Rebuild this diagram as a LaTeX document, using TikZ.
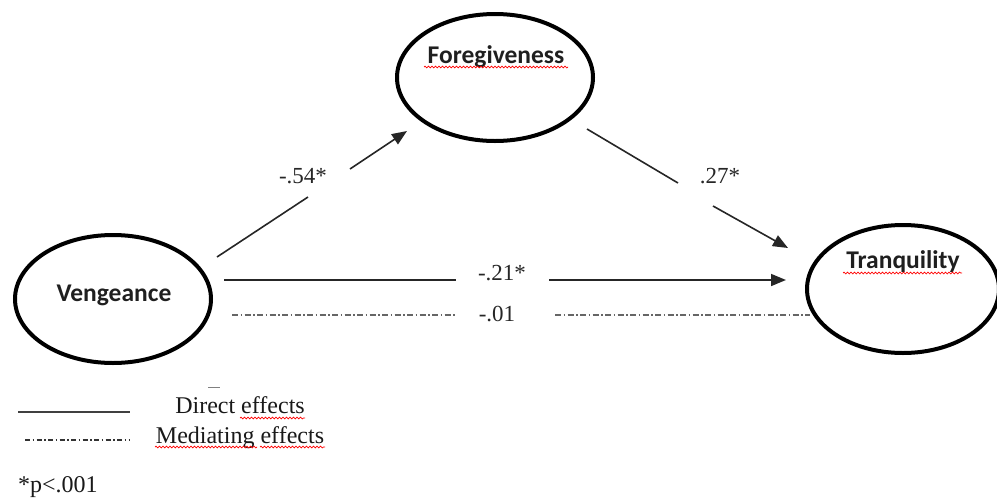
\documentclass[tikz,border=0pt]{standalone}
\usepackage{fontspec}
\setmainfont{Liberation Serif}
\newfontfamily\calib{Carlito}
\usetikzlibrary{arrows.meta,decorations.pathmorphing,shapes.geometric}

\begin{document}
\begin{tikzpicture}[x=1pt,y=-1pt,
  ell/.style={draw, ellipse, line width=4pt, inner sep=0pt},
  elabel/.style={font=\calib\bfseries\fontsize{25.5}{30}\selectfont, text=black!88, anchor=base, inner sep=0pt},
  num/.style={font=\fontsize{23}{28}\selectfont, text=black!85, anchor=base, inner sep=0pt},
  legtext/.style={font=\fontsize{24}{28}\selectfont, text=black!90, anchor=base, inner sep=0pt},
  conn/.style={line width=1.6pt, draw=black!85},
  arr/.style={conn, -{Triangle[length=15pt,width=12pt]}},
  med/.style={line width=1.3pt, draw=black!60, dash pattern=on 6pt off 2.5pt on 1.5pt off 2.5pt},
  squiggle/.style={draw=red, line width=0.7pt, decorate, decoration={snake, amplitude=0.9pt, segment length=3.5pt}}
]
\useasboundingbox (0,0) rectangle (997,499);

% ellipses
\node[ell, minimum width=196pt, minimum height=127pt] (F) at (495,77.5) {};
\node[ell, minimum width=196pt, minimum height=128pt] (V) at (113,299) {};
\node[ell, minimum width=192pt, minimum height=128pt] (T) at (903,289) {};

% ellipse labels
\node[elabel] (Ft) at (496,63) {Foregiveness};
\node[elabel] (Vt) at (114,301) {Vengeance};
\node[elabel] (Tt) at (903,268) {Tranquility};
\draw[squiggle] (424,67) -- (568,67);
\draw[squiggle] (843,273) -- (962,273);

% connector points
\coordinate (vf1) at (217,257);
\coordinate (vf2) at (308,197);
\coordinate (vf3) at (350,169);
\coordinate (vf4) at (407,131);
\coordinate (ft1) at (587,129);
\coordinate (ft2) at (678,183);
\coordinate (ft3) at (713,206);
\coordinate (ft4) at (788,248);
\coordinate (vt1) at (224,280);
\coordinate (vt2) at (456,280);
\coordinate (vt3) at (549,280);
\coordinate (vt4) at (786,280);
\coordinate (md1) at (232,315);
\coordinate (md2) at (455,315);
\coordinate (md3) at (555,315);
\coordinate (md4) at (810,315);

% connectors
\draw[conn] (vf1) -- (vf2);
\draw[arr] (vf3) -- (vf4);
\draw[conn] (ft1) -- (ft2);
\draw[arr] (ft3) -- (ft4);
\draw[conn] (vt1) -- (vt2);
\draw[arr] (vt3) -- (vt4);
\draw[med] (md1) -- (md2);
\draw[med] (md3) -- (md4);

% coefficient labels
\node[num] (l54) at (303,183) {-.54*};
\node[num] (l27) at (720,183) {.27*};
\node[num] (l21) at (502,280) {-.21*};
\node[num] (l01) at (497,321) {-.01};

% legend
\coordinate (ld1) at (18,412);
\coordinate (ld2) at (130,412);
\coordinate (lm1) at (25,440);
\coordinate (lm2) at (130,440);
\draw[line width=1.3pt, draw=black!75] (ld1) -- (ld2);
\draw[line width=1.2pt, draw=black!80, dash pattern=on 5pt off 2.5pt on 1.5pt off 2.5pt] (lm1) -- (lm2);
\node[legtext] (dir) at (240,413) {Direct effects};
\node[legtext] (medt) at (240,443) {Mediating effects};
\draw[squiggle] (240,418) -- (305,418);
\draw[squiggle] (155,447) -- (257,447);
\draw[squiggle] (260,447) -- (325,447);
\coordinate (sd1) at (208,387);
\coordinate (sd2) at (220,387);
\draw[line width=0.8pt, draw=black!50] (sd1) -- (sd2);
\node[legtext, anchor=base west] (pv) at (18,492) {*p<.001};
\end{tikzpicture}
\end{document}
